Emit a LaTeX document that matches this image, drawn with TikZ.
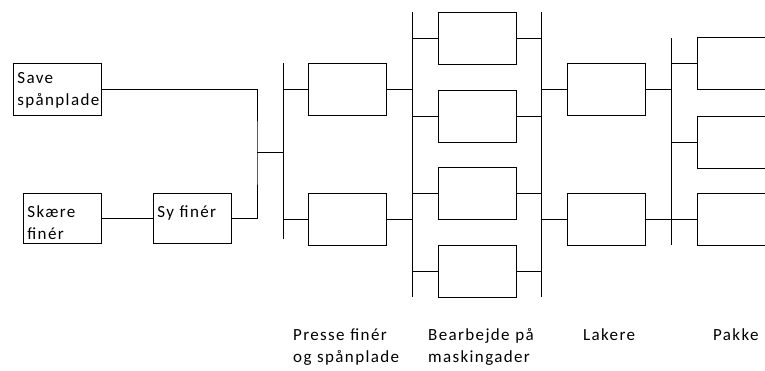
\documentclass[tikz,border=0pt]{standalone}
\usepackage{fontspec}
\setmainfont{Carlito}[LetterSpace=8]
\usetikzlibrary{positioning,calc}

\begin{document}
\begin{tikzpicture}[
  x=1pt, y=-1pt,
  font=\fontsize{17}{22}\selectfont,
  box/.style={
    rectangle, draw=black, line width=0.8pt,
    anchor=north west, inner sep=0pt,
    minimum width=78pt, minimum height=52pt
  },
  namebox/.style={
    box, inner xsep=4pt, inner ysep=4pt,
    text width=#1, align=left,
    text height=20pt, text depth=22pt
  },
  link/.style={line width=0.8pt},
  caption/.style={anchor=base west, inner sep=0pt, text width=120pt, align=left}
]
\clip (0,0) rectangle (765,370);

\node[namebox=80pt, text height=16pt, text depth=28pt] (save) at (13,63) {Save\\spånplade};
\node[namebox=70pt, minimum height=50pt] (skaere) at (23,193) {Skære\\finér};
\node[namebox=70pt, minimum height=50pt] (sy) at (153,193) {Sy finér};

\node[box] (press1) at (308,63) {};
\node[box] (press2) at (308,193) {};

\node[box] (bearb1) at (438,12) {};
\node[box] (bearb2) at (438,89.5) {};
\node[box] (bearb3) at (438,167) {};
\node[box] (bearb4) at (438,245) {};

\node[box] (lak1) at (567,63) {};
\node[box] (lak2) at (567,193) {};

\node[box] (pakke1) at (697,37) {};
\node[box] (pakke2) at (697,115.5) {};
\node[box] (pakke3) at (697,193) {};

\coordinate (join) at (257,152);
\coordinate (b1top) at (283,63);
\coordinate (b1bot) at (283,239);
\coordinate (b2top) at (412,12);
\coordinate (b2bot) at (412,297);
\coordinate (b3top) at (541.5,12);
\coordinate (b3bot) at (541.5,297);
\coordinate (b4top) at (671,38);
\coordinate (b4bot) at (671,245);

\draw[link] (save.east) -| (join) |- (sy.east);
\draw[link] (skaere.east) -- (sy.west);
\draw[link] (join) -- (join -| b1top);

\draw[link] (b1top) -- (b1bot);
\draw[link] (b1top |- press1.west) -- (press1.west) (press1.east) -- (press1.east -| b2top);
\draw[link] (b1top |- press2.west) -- (press2.west) (press2.east) -- (press2.east -| b2top);

\draw[link] (b2top) -- (b2bot);
\draw[link] (b2top |- bearb1.west) -- (bearb1.west) (bearb1.east) -- (bearb1.east -| b3top);
\draw[link] (b2top |- bearb2.west) -- (bearb2.west) (bearb2.east) -- (bearb2.east -| b3top);
\draw[link] (b2top |- bearb3.west) -- (bearb3.west) (bearb3.east) -- (bearb3.east -| b3top);
\draw[link] (b2top |- bearb4.west) -- (bearb4.west) (bearb4.east) -- (bearb4.east -| b3top);

\draw[link] (b3top) -- (b3bot);
\draw[link] (b3top |- lak1.west) -- (lak1.west) (lak1.east) -- (lak1.east -| b4top);
\draw[link] (b3top |- lak2.west) -- (lak2.west) (lak2.east) -- (lak2.east -| b4top);

\draw[link] (b4top) -- (b4bot);
\draw[link] (b4top |- pakke1.west) -- (pakke1.west);
\draw[link] (b4top |- pakke2.west) -- (pakke2.west);
\draw[link] (b4top |- pakke3.west) -- (pakke3.west);

\node[caption] (cpress) at (293,340) {Presse finér\\og spånplade};
\node[caption] (cbearb) at (428,340) {Bearbejde på\\maskingader};
\node[caption] (clak) at (583,340) {Lakere};
\node[caption] (cpakke) at (713,340) {Pakke};
\end{tikzpicture}
\end{document}
